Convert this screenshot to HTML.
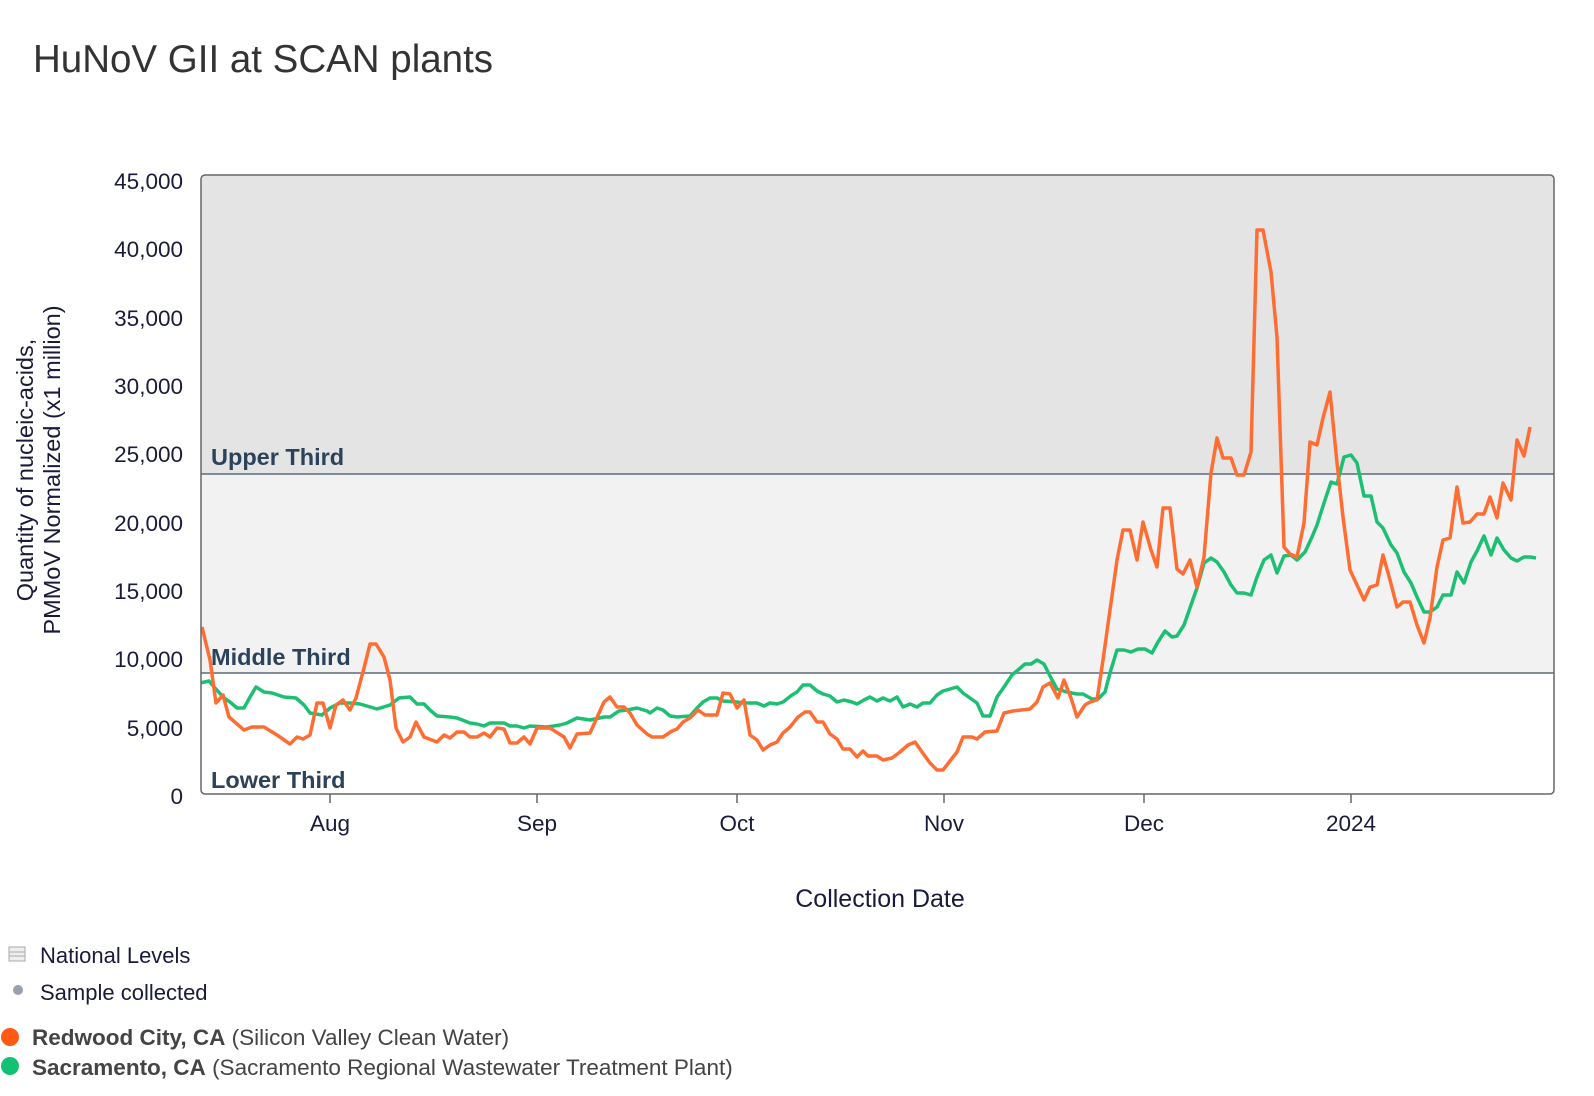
<!DOCTYPE html>
<html><head><meta charset="utf-8"><style>
html,body{margin:0;padding:0;background:#fff;}
svg{display:block;font-family:"Liberation Sans",sans-serif;}
</style></head><body>
<svg width="1594" height="1096" viewBox="0 0 1594 1096" xmlns="http://www.w3.org/2000/svg">
<text x="33" y="72" font-size="38.5" fill="#333">HuNoV GII at SCAN plants</text>
<defs><clipPath id="pc"><rect x="201" y="175" width="1353" height="619" rx="4"/></clipPath></defs>
<g clip-path="url(#pc)">
<rect x="201" y="175" width="1353" height="299" fill="#e4e4e4"/>
<rect x="201" y="474" width="1353" height="199" fill="#f2f2f2"/>
<rect x="201" y="673" width="1353" height="124" fill="#fff"/>
<line x1="201" y1="474" x2="1554" y2="474" stroke="#5d6b7a" stroke-width="1.5"/>
<line x1="201" y1="673" x2="1554" y2="673" stroke="#5d6b7a" stroke-width="1.5"/>
<g font-weight="bold" font-size="23.5" fill="#2b4259">
<text x="211" y="465">Upper Third</text>
<text x="211" y="665">Middle Third</text>
<text x="211" y="788">Lower Third</text>
</g>
<polyline fill="none" stroke="#1dbf73" stroke-width="3.5" stroke-linejoin="round" points="200,683 209,681 215,688 224,698 230,702 237,708 244,708 250,697 256,687 264,692 272,693 284,697 296,698 304,705 310,713 322,715 330,708 340,703 350,703 360,704 377,709 390,705 399,698 410,697 417,704 424,704 430,710 437,716 450,717 457,718 470,723 477,724 484,726 490,723 504,723 510,726 517,726 524,728 530,726 547,727 560,725 567,723 577,718 590,720 604,717 610,717 619,711 627,710 637,708 647,711 650,713 657,708 663,710 670,716 677,717 690,716 697,708 703,702 710,698 717,698 723,701 737,702 743,703 757,703 764,706 770,703 777,704 783,702 792,695 797,692 803,685 810,685 817,691 823,694 830,696 837,702 844,700 852,702 857,704 864,700 870,697 877,701 883,698 890,701 897,697 903,707 910,704 917,707 923,703 930,703 937,695 943,691 950,689 957,687 963,693 970,698 977,703 983,716 990,716 997,697 1004,687 1012,675 1018,670 1025,664 1031,664 1037,660 1044,664 1051,678 1057,689 1067,692 1077,694 1083,694 1092,699 1098,699 1105,692 1110,673 1117,650 1124,650 1131,652 1138,649 1145,649 1152,653 1158,642 1165,631 1172,637 1177,636 1184,625 1191,605 1197,588 1204,563 1211,558 1217,562 1224,572 1231,585 1237,593 1244,593 1251,595 1257,577 1264,560 1271,555 1277,573 1284,556 1291,555 1297,560 1305,552 1312,537 1317,525 1324,503 1331,482 1337,484 1344,457 1351,455 1357,463 1364,496 1371,496 1377,522 1383,528 1391,545 1397,553 1404,572 1411,583 1417,597 1424,612 1430,612 1437,607 1443,595 1451,595 1457,572 1464,583 1471,562 1477,551 1484,536 1491,555 1497,538 1504,550 1511,558 1517,561 1524,557 1530,557 1536,558"/>
<polyline fill="none" stroke="#ff6d33" stroke-width="3.5" stroke-linejoin="round" points="202,627 210,660 216,703 223,695 229,717 244,730 252,727 264,727 277,735 290,744 297,737 303,739 310,735 317,703 323,703 330,728 336,705 343,700 350,710 356,698 364,668 370,644 376,644 384,657 390,680 396,728 403,742 410,737 416,722 424,737 437,742 444,735 450,738 457,732 464,732 470,737 477,737 484,733 490,737 497,728 504,729 510,743 517,743 524,737 530,744 537,728 550,728 564,737 570,748 577,734 590,733 604,702 610,697 617,707 624,707 630,713 637,725 647,734 652,737 663,737 672,731 677,729 683,722 690,718 698,710 705,715 717,715 723,693 730,694 737,708 744,700 750,735 757,740 763,750 770,745 777,742 783,733 790,727 798,717 805,712 810,712 817,722 823,722 830,734 837,739 843,749 850,749 857,757 863,751 868,756 877,756 883,760 892,758 900,752 908,745 915,742 922,752 930,763 937,770 943,770 950,761 957,752 963,737 972,737 977,739 985,732 997,731 1004,713 1013,711 1030,709 1037,702 1043,687 1050,683 1058,698 1064,680 1071,698 1077,717 1085,705 1090,702 1097,700 1103,660 1110,610 1117,560 1123,530 1130,530 1137,560 1143,522 1151,550 1157,567 1163,508 1170,508 1177,569 1183,574 1190,560 1197,587 1204,557 1211,473 1217,438 1223,458 1231,458 1237,475 1244,475 1251,452 1257,230 1263,230 1271,272 1277,337 1284,547 1290,554 1297,557 1304,523 1310,442 1317,445 1323,418 1330,392 1337,463 1343,517 1350,570 1357,585 1364,600 1370,587 1377,585 1383,555 1390,580 1397,607 1403,602 1410,602 1417,625 1424,643 1430,618 1437,567 1443,540 1450,538 1457,487 1463,523 1470,522 1477,514 1484,514 1490,497 1497,518 1503,483 1511,500 1517,440 1524,456 1530,427"/>
</g>
<rect x="201" y="175" width="1353" height="619" rx="4" fill="none" stroke="#666" stroke-width="1.5"/>
<g font-size="22.5" fill="#1a1a3a" text-anchor="end">
<text x="183" y="189">45,000</text>
<text x="183" y="257">40,000</text>
<text x="183" y="326">35,000</text>
<text x="183" y="394">30,000</text>
<text x="183" y="462">25,000</text>
<text x="183" y="531">20,000</text>
<text x="183" y="599">15,000</text>
<text x="183" y="667">10,000</text>
<text x="183" y="736">5,000</text>
<text x="183" y="804">0</text>
</g>
<g stroke="#666" stroke-width="1.5">
<line x1="330" y1="794" x2="330" y2="803"/><line x1="537" y1="794" x2="537" y2="803"/>
<line x1="737" y1="794" x2="737" y2="803"/><line x1="944" y1="794" x2="944" y2="803"/>
<line x1="1144" y1="794" x2="1144" y2="803"/><line x1="1351" y1="794" x2="1351" y2="803"/>
</g>
<g font-size="22.5" fill="#1a1a3a" text-anchor="middle">
<text x="330" y="831">Aug</text><text x="537" y="831">Sep</text><text x="737" y="831">Oct</text>
<text x="944" y="831">Nov</text><text x="1144" y="831">Dec</text><text x="1351" y="831">2024</text>
<text x="880" y="907" font-size="25">Collection Date</text>
</g>
<g font-size="23.5" fill="#1a1a3a" text-anchor="middle">
<text transform="translate(33,470) rotate(-90)">Quantity of nucleic-acids,</text>
<text transform="translate(60,470) rotate(-90)">PMMoV Normalized (x1 million)</text>
</g>
<rect x="9" y="947" width="16" height="14" fill="#eee" stroke="#aaa"/>
<line x1="9" y1="952" x2="25" y2="952" stroke="#aaa"/><line x1="9" y1="956" x2="25" y2="956" stroke="#aaa"/>
<circle cx="18" cy="990" r="5" fill="#9aa0ad"/>
<circle cx="10" cy="1037" r="9" fill="#ff5a14"/>
<circle cx="10" cy="1066" r="9" fill="#12c172"/>
<g font-size="22" fill="#1a1a3a">
<text x="40" y="963">National Levels</text>
<text x="40" y="1000">Sample collected</text>
</g>
<g font-size="22.5" fill="#444">
<text x="32" y="1045"><tspan font-weight="bold">Redwood City, CA</tspan> (Silicon Valley Clean Water)</text>
<text x="32" y="1075"><tspan font-weight="bold">Sacramento, CA</tspan> (Sacramento Regional Wastewater Treatment Plant)</text>
</g>
</svg>
</body></html>
